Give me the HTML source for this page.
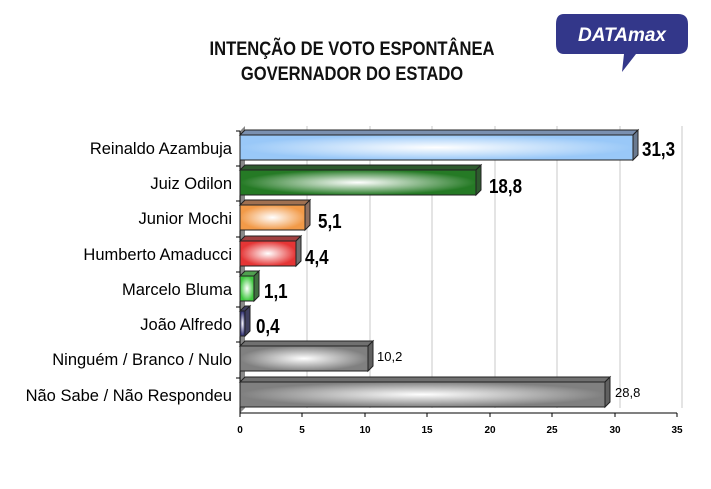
<!DOCTYPE html>
<html><head><meta charset="utf-8"><style>
body{margin:0;background:#fff;}
svg{display:block;font-family:"Liberation Sans",sans-serif;}
</style></head><body>
<svg width="711" height="489" viewBox="0 0 711 489" xmlns="http://www.w3.org/2000/svg">
<defs>
<radialGradient id="gb" cx="0.5" cy="0.5" r="0.5"><stop offset="0" stop-color="#fff"/><stop offset="1" stop-color="#99c8f8"/></radialGradient>
<radialGradient id="gg" cx="0.5" cy="0.5" r="0.5"><stop offset="0" stop-color="#fff"/><stop offset="1" stop-color="#257a25"/></radialGradient>
<radialGradient id="go" cx="0.5" cy="0.5" r="0.5"><stop offset="0" stop-color="#fff"/><stop offset="1" stop-color="#f29a48"/></radialGradient>
<radialGradient id="gr" cx="0.5" cy="0.5" r="0.5"><stop offset="0" stop-color="#fff"/><stop offset="1" stop-color="#e53535"/></radialGradient>
<radialGradient id="gl" cx="0.5" cy="0.5" r="0.5"><stop offset="0" stop-color="#fff"/><stop offset="1" stop-color="#40c840"/></radialGradient>
<radialGradient id="gn" cx="0.5" cy="0.5" r="0.5"><stop offset="0" stop-color="#fff"/><stop offset="1" stop-color="#303070"/></radialGradient>
<radialGradient id="gy" cx="0.5" cy="0.5" r="0.5"><stop offset="0" stop-color="#fff"/><stop offset="1" stop-color="#808080"/></radialGradient>
</defs>
<text x="352" y="55" text-anchor="middle" font-size="19.5" font-weight="bold" fill="#111" transform="translate(352 0) scale(0.85 1) translate(-352 0)">INTENÇÃO DE VOTO ESPONTÂNEA</text>
<text x="352" y="80" text-anchor="middle" font-size="19.5" font-weight="bold" fill="#111" transform="translate(352 0) scale(0.85 1) translate(-352 0)">GOVERNADOR DO ESTADO</text>
<path d="M564 14 H678 Q688 14 688 24 V44 Q688 54 678 54 H636 L622 72 L624 54 H564 Q556 54 556 44 V24 Q556 14 564 14 Z" fill="#33378a"/>
<text x="622" y="41" text-anchor="middle" font-size="19" font-weight="bold" font-style="italic" fill="#fff">DATAmax</text>
<g stroke="#c8c8c8" stroke-width="1">
<line x1="307" y1="126" x2="307" y2="408"/><line x1="370" y1="126" x2="370" y2="408"/><line x1="432" y1="126" x2="432" y2="408"/><line x1="495" y1="126" x2="495" y2="408"/><line x1="557" y1="126" x2="557" y2="408"/><line x1="620" y1="126" x2="620" y2="408"/><line x1="682" y1="126" x2="682" y2="408"/>
</g>
<polygon points="240,131 245,126 245,408 240,413" fill="#888"/>
<line x1="240" y1="131" x2="240" y2="413" stroke="#000"/>
<line x1="240" y1="413" x2="677" y2="413" stroke="#000"/>
<g stroke="#000">
<line x1="236" y1="131" x2="240" y2="131"/><line x1="236" y1="166" x2="240" y2="166"/><line x1="236" y1="201" x2="240" y2="201"/><line x1="236" y1="237" x2="240" y2="237"/><line x1="236" y1="272" x2="240" y2="272"/><line x1="236" y1="307" x2="240" y2="307"/><line x1="236" y1="342" x2="240" y2="342"/><line x1="236" y1="378" x2="240" y2="378"/>
<line x1="240" y1="413" x2="240" y2="417"/><line x1="302" y1="413" x2="302" y2="417"/><line x1="365" y1="413" x2="365" y2="417"/><line x1="427" y1="413" x2="427" y2="417"/><line x1="490" y1="413" x2="490" y2="417"/><line x1="552" y1="413" x2="552" y2="417"/><line x1="615" y1="413" x2="615" y2="417"/><line x1="677" y1="413" x2="677" y2="417"/>
</g>
<g font-size="10" font-weight="bold" text-anchor="middle" fill="#000">
<text x="240" y="433">0</text><text x="302" y="433">5</text><text x="365" y="433">10</text><text x="427" y="433">15</text><text x="490" y="433">20</text><text x="552" y="433">25</text><text x="615" y="433">30</text><text x="677" y="433">35</text>
</g>
<g font-size="16.5" text-anchor="end" fill="#000">
<text x="232" y="154">Reinaldo Azambuja</text>
<text x="232" y="189">Juiz Odilon</text>
<text x="232" y="224">Junior Mochi</text>
<text x="232" y="260">Humberto Amaducci</text>
<text x="232" y="295">Marcelo Bluma</text>
<text x="232" y="330">João Alfredo</text>
<text x="232" y="365">Ninguém / Branco / Nulo</text>
<text x="232" y="401">Não Sabe / Não Respondeu</text>
</g>
<g stroke="#222" stroke-width="1">
<polygon points="240,135 245,130 638,130 633,135" fill="#7a90b0"/><polygon points="633,135 638,130 638,155 633,160" fill="#6a7a90"/><rect x="240" y="135" width="393" height="25" fill="url(#gb)"/>
<polygon points="240,170 245,165 481,165 476,170" fill="#2e5a2e"/><polygon points="476,170 481,165 481,190 476,195" fill="#2e5a2e"/><rect x="240" y="170" width="236" height="25" fill="url(#gg)"/>
<polygon points="240,205 245,200 310,200 305,205" fill="#a07050"/><polygon points="305,205 310,200 310,225 305,230" fill="#907060"/><rect x="240" y="205" width="65" height="25" fill="url(#go)"/>
<polygon points="240,241 245,236 301,236 296,241" fill="#a04040"/><polygon points="296,241 301,236 301,261 296,266" fill="#707070"/><rect x="240" y="241" width="56" height="25" fill="url(#gr)"/>
<polygon points="240,276 245,271 259,271 254,276" fill="#50a050"/><polygon points="254,276 259,271 259,296 254,301" fill="#407040"/><rect x="240" y="276" width="14" height="25" fill="url(#gl)"/>
<polygon points="240,311 245,306 250,306 245,311" fill="#404060"/><polygon points="245,311 250,306 250,331 245,336" fill="#404060"/><rect x="240" y="311" width="5" height="25" fill="url(#gn)"/>
<polygon points="240,346 245,341 373,341 368,346" fill="#707070"/><polygon points="368,346 373,341 373,366 368,371" fill="#606060"/><rect x="240" y="346" width="128" height="25" fill="url(#gy)"/>
<polygon points="240,382 245,377 610,377 605,382" fill="#707070"/><polygon points="605,382 610,377 610,402 605,407" fill="#606060"/><rect x="240" y="382" width="365" height="25" fill="url(#gy)"/>
</g>
<g font-size="20" font-weight="bold" fill="#000">
<text x="642" y="156" transform="translate(642 0) scale(0.85 1) translate(-642 0)">31,3</text>
<text x="489" y="193" transform="translate(489 0) scale(0.85 1) translate(-489 0)">18,8</text>
<text x="318" y="228" transform="translate(318 0) scale(0.85 1) translate(-318 0)">5,1</text>
<text x="305" y="264" transform="translate(305 0) scale(0.85 1) translate(-305 0)">4,4</text>
<text x="264" y="298" transform="translate(264 0) scale(0.85 1) translate(-264 0)">1,1</text>
<text x="256" y="333" transform="translate(256 0) scale(0.85 1) translate(-256 0)">0,4</text>
</g>
<g font-size="13" fill="#000">
<text x="377" y="361">10,2</text>
<text x="615" y="397">28,8</text>
</g>
</svg>
</body></html>
